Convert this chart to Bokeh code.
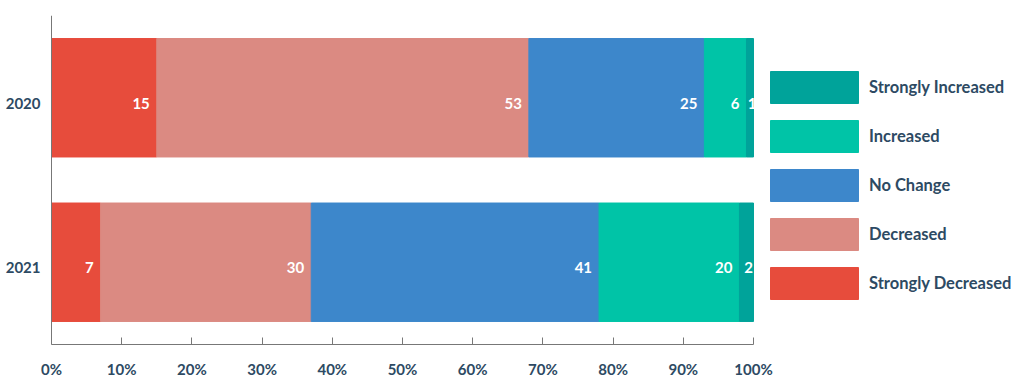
from bokeh.plotting import figure
from bokeh.models import ColumnDataSource, FactorRange, Range1d, FixedTicker, Legend, LegendItem, Span
from bokeh.core.properties import value
from bokeh.embed import file_html
from bokeh.resources import INLINE

years = ["2020", "2021"]
categories = ["Strongly Decreased", "Decreased", "No Change", "Increased", "Strongly Increased"]
strongly_decreased = [15, 7]
decreased = [53, 30]
no_change = [25, 41]
increased = [6, 20]
strongly_increased = [1, 2]
colors = ["#e74c3c", "#db8a82", "#3d87cb", "#00c4a7", "#00a39a"]
tick_values = [0, 10, 20, 30, 40, 50, 60, 70, 80, 90, 100]
tick_labels = ["0%", "10%", "20%", "30%", "40%", "50%", "60%", "70%", "80%", "90%", "100%"]

series = [strongly_decreased, decreased, no_change, increased, strongly_increased]
FONT = "Lato"
TXT = "#2d4a63"

data = {"year": years}
for c, s in zip(categories, series):
    data[c] = s
src = ColumnDataSource(data)

frame_w, frame_h = 1016, 329
px_per_unit = 7.02
left_px = 51
x_start = -left_px / px_per_unit
x_end = (frame_w - left_px) / px_per_unit

p = figure(frame_width=frame_w, frame_height=frame_h,
           y_range=FactorRange(factors=["2021", "2020"], range_padding=0),
           x_range=Range1d(x_start, x_end), y_axis_location=None,
           output_backend="svg", toolbar_location=None,
           min_border_left=0, min_border_top=15, min_border_bottom=38, min_border_right=0)
p.outline_line_color = None
p.background_fill_color = "white"
p.border_fill_color = "white"
p.grid.visible = False

renderers = p.hbar_stack(categories, y="year", height=0.72, color=colors, source=src)

p.add_layout(Span(location=0, dimension="height", line_color="#777777", line_width=1))

# value labels
bx, by, bt = [], [], []
sx, sy, st = [], [], []
for i, y in enumerate(years):
    cum = 0
    for s in series:
        start = cum
        cum += s[i]
        if s[i] >= 3:
            bx.append(cum); by.append(y); bt.append(str(s[i]))
        else:
            sx.append((start + cum) / 2.0); sy.append(y); st.append(str(s[i]))
p.text(x="x", y="y", text="text", source=ColumnDataSource(dict(x=bx, y=by, text=bt)),
       text_align="right", text_baseline="top", x_offset=-7, text_color="white",
       text_font=value(FONT), text_font_style="bold", text_font_size="15px")
p.text(x="x", y="y", text="text", source=ColumnDataSource(dict(x=sx, y=sy, text=st)),
       text_align="center", text_baseline="top", x_offset=2, text_color="white",
       text_font=value(FONT), text_font_style="bold", text_font_size="15px")

# year labels
p.text(x="x", y="y", text="text",
       source=ColumnDataSource(dict(x=[0] * len(years), y=years, text=years)),
       text_align="right", text_baseline="top", x_offset=-11, text_color=TXT,
       text_font=value(FONT), text_font_style="bold", text_font_size="15px")

xa = p.xaxis[0]
xa.ticker = FixedTicker(ticks=tick_values)
xa.major_label_overrides = {v: l for v, l in zip(tick_values, tick_labels)}
xa.bounds = (0, 100)
xa.major_tick_in = 7
xa.major_tick_out = 0
xa.minor_tick_line_color = None
xa.axis_line_color = "#777777"
xa.major_tick_line_color = "#777777"
xa.major_label_standoff = 15
xa.major_label_text_font = FONT
xa.major_label_text_font_style = "bold"
xa.major_label_text_font_size = "15px"
xa.major_label_text_color = TXT

items = [LegendItem(label=c, renderers=[r]) for c, r in zip(categories, renderers)][::-1]
legend = Legend(items=items, location=(759, 41), glyph_width=110, glyph_height=40,
                label_height=40,
                spacing=9, padding=0, margin=0, label_standoff=0,
                border_line_alpha=0, background_fill_alpha=0,
                label_text_font=FONT, label_text_font_size="16.5px", label_text_font_style="bold",
                label_text_color=TXT, label_text_baseline="top")
p.add_layout(legend, "center")

open("out.html", "w").write(file_html(p, INLINE))
